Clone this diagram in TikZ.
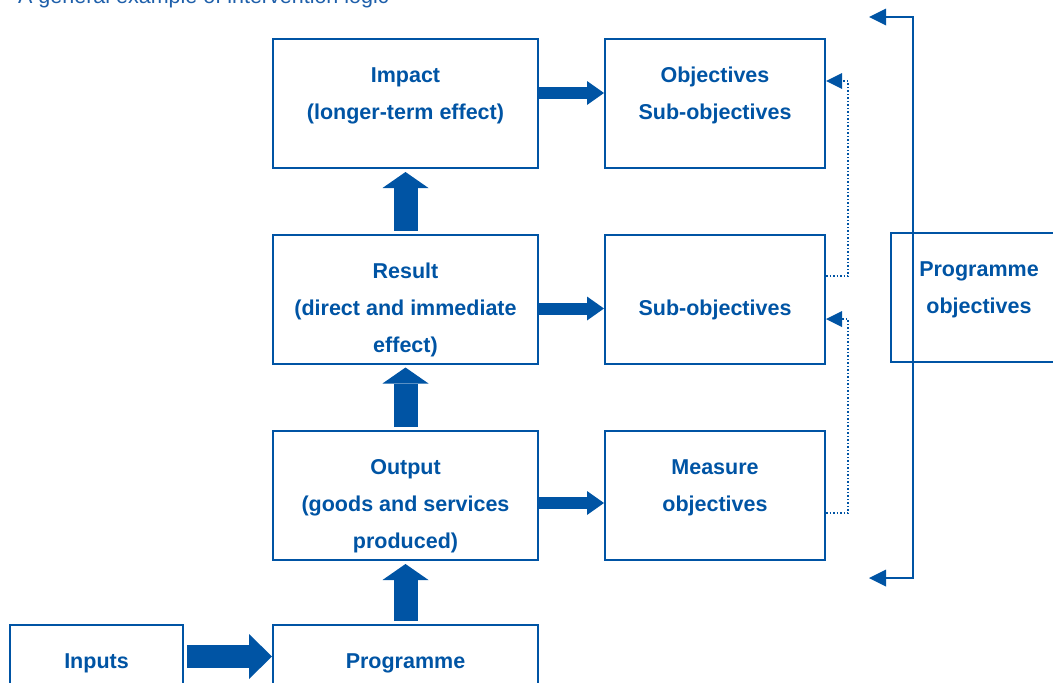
\documentclass[tikz,border=0pt]{standalone}
\usepackage{fontspec}
\setmainfont{Liberation Sans}
\usetikzlibrary{arrows.meta}
\definecolor{eublue}{RGB}{0,84,164}
\definecolor{titleblue}{RGB}{30,95,170}
\newcommand\mystrut{\rule{0pt}{17pt}}
\begin{document}
\begin{tikzpicture}[x=1pt,y=-1pt,
  box/.style={draw=eublue, line width=2pt, minimum width=#1, minimum height=129pt, inner sep=0pt},
  txt/.style={text=eublue, font=\bfseries\fontsize{21.5}{37.2}\selectfont, align=center, inner sep=0pt, anchor=north},
  varrow/.style={draw=eublue, line width=24pt, -{Triangle[length=16pt,width=46pt,line width=0pt]}},
  harrow/.style={draw=eublue, line width=12pt, -{Triangle[length=17pt,width=24pt,line width=0pt]}},
  inarrow/.style={draw=eublue, line width=23pt, -{Triangle[length=23pt,width=45pt,line width=0pt]}},
  dotarrow/.style={draw=eublue, line width=1.5pt, dash pattern=on 1.5pt off 2pt, -{Triangle[length=16pt,width=16pt,line width=0pt]}},
  bracket/.style={draw=eublue, line width=2pt, {Triangle[length=17pt,width=17pt,line width=0pt]}-{Triangle[length=17pt,width=17pt,line width=0pt]}}
]
\useasboundingbox (0,0) rectangle (1053,683);
\clip (0,0) rectangle (1053,683);

\node[anchor=base west, inner sep=0pt, text=titleblue, font=\fontsize{21.5}{26}\selectfont] (title) at (18,3.5) {A general example of intervention logic};

% boxes
\node[box=265pt] (impact) at (405.5,103.5) {};
\node[box=220pt] (objectives) at (715,103.5) {};
\node[box=265pt] (result) at (405.5,299) {};
\node[box=220pt] (subobj) at (715,299) {};
\node[box=265pt] (output) at (405.5,495.5) {};
\node[box=220pt] (measure) at (715,495.5) {};
\node[box=173pt] (inputs) at (96.5,689.5) {};
\node[box=265pt] (programme) at (405.5,689.5) {};
\node[box=176pt] (progobj) at (979,297.5) {};

% texts
\node[txt] (impactT) at ([yshift=-27.3pt]impact.north) {\mystrut Impact\\(longer-term effect)};
\node[txt] (objectivesT) at ([yshift=-27.3pt]objectives.north) {\mystrut Objectives\\Sub-objectives};
\node[txt] (resultT) at ([yshift=-27.3pt]result.north) {\mystrut Result\\(direct and immediate\\effect)};
\node[txt] (subobjT) at ([yshift=-64.5pt]subobj.north) {\mystrut Sub-objectives};
\node[txt] (outputT) at ([yshift=-27.3pt]output.north) {\mystrut Output\\(goods and services\\produced)};
\node[txt] (measureT) at ([yshift=-27.3pt]measure.north) {\mystrut Measure\\objectives};
\node[txt] (inputsT) at ([yshift=-27.3pt]inputs.north) {\mystrut Inputs};
\node[txt] (programmeT) at ([yshift=-27.3pt]programme.north) {\mystrut Programme};
\node[txt] (progobjT) at ([yshift=-27.3pt]progobj.north) {\mystrut Programme\\objectives};

% block arrows
\draw[varrow] ([yshift=3pt]result.north) -- ([yshift=-3pt]impact.south);
\draw[varrow] ([yshift=3pt]output.north) -- ([yshift=-3pt]result.south);
\draw[varrow] ([yshift=3pt]programme.north) -- ([yshift=-3pt]output.south);
\draw[harrow] ([yshift=10.5pt]impact.east) -- ([yshift=10.5pt]objectives.west);
\draw[harrow] ([yshift=-9.5pt]result.east) -- ([yshift=-9.5pt]subobj.west);
\draw[harrow] ([yshift=-7.5pt]output.east) -- ([yshift=-7.5pt]measure.west);
\draw[inarrow] ([xshift=3pt,yshift=33pt]inputs.east) -- ([yshift=33pt]programme.west);

% dotted feedback arrows
\draw[dotarrow] ([yshift=23pt]subobj.east) -- ++(22,0) |- ([yshift=22.5pt]objectives.east);
\draw[dotarrow] ([yshift=-17.5pt]measure.east) -- ++(22,0) |- ([yshift=-20pt]subobj.east);

% bracket
\coordinate (bt) at (869,17);
\coordinate (bb) at (869,578);
\draw[bracket] (bt) -- ++(44,0) -- ++(0,561) -- (bb);
\end{tikzpicture}
\end{document}
